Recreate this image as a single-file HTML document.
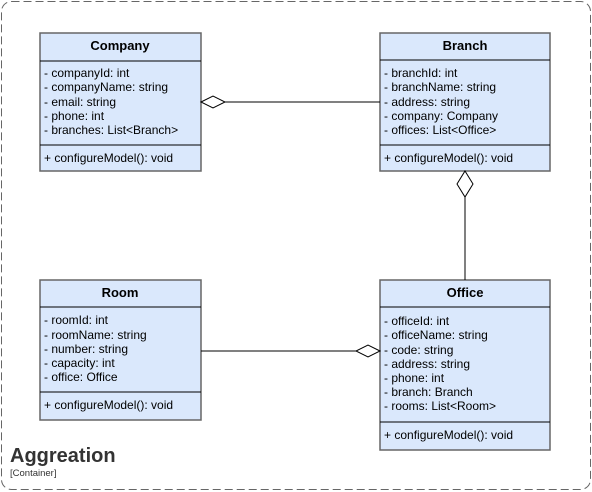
<!DOCTYPE html>
<html><head><style>body{margin:0;background:#fff}svg{display:block}text{font-family:"Liberation Sans",Arial,sans-serif;font-size:12px;fill:#000}</style></head><body>
<svg width="592" height="492" viewBox="0 0 592 492">
<rect x="1.5" y="1.5" width="589" height="488" rx="10" fill="none" stroke="#666" stroke-dasharray="8,4"/>
<g stroke="#666" stroke-width="1.5" fill="#dae8fc">
<rect x="40" y="33" width="161" height="138"/>
<rect x="380" y="33" width="170" height="138"/>
<rect x="40" y="280" width="161" height="140"/>
<rect x="380" y="280" width="170" height="170"/>
</g>
<g stroke="#000" stroke-width="1">
<line x1="40" y1="61" x2="201" y2="61"/><line x1="40" y1="145" x2="201" y2="145"/>
<line x1="380" y1="60" x2="550" y2="60"/><line x1="380" y1="145" x2="550" y2="145"/>
<line x1="40" y1="307" x2="201" y2="307"/><line x1="40" y1="392" x2="201" y2="392"/>
<line x1="380" y1="307" x2="550" y2="307"/><line x1="380" y1="422" x2="550" y2="422"/>
<line x1="225" y1="102" x2="380" y2="102"/>
<line x1="465" y1="197" x2="465" y2="280"/>
<line x1="201" y1="351" x2="356" y2="351"/>
</g>
<g stroke="#000" fill="#fff">
<polygon points="201,102 213,96 225,102 213,108"/>
<polygon points="465,171 473,184 465,197 457,184"/>
<polygon points="380,351 368,345 356,351 368,357"/>
</g>
<g text-anchor="middle">
<text x="120" y="50" style="font-weight:bold;font-size:13px">Company</text>
<text x="465" y="50" style="font-weight:bold;font-size:13px">Branch</text>
<text x="120" y="297" style="font-weight:bold;font-size:13px">Room</text>
<text x="465" y="297" style="font-weight:bold;font-size:13px">Office</text>
</g>
<text x="44" y="77">- companyId: int</text>
<text x="44" y="91">- companyName: string</text>
<text x="44" y="106">- email: string</text>
<text x="44" y="120">- phone: int</text>
<text x="44" y="134">- branches: List&lt;Branch&gt;</text>
<text x="44" y="162">+ configureModel(): void</text>
<text x="384" y="77">- branchId: int</text>
<text x="384" y="91">- branchName: string</text>
<text x="384" y="106">- address: string</text>
<text x="384" y="120">- company: Company</text>
<text x="384" y="134">- offices: List&lt;Office&gt;</text>
<text x="384" y="162">+ configureModel(): void</text>
<text x="44" y="324">- roomId: int</text>
<text x="44" y="339">- roomName: string</text>
<text x="44" y="353">- number: string</text>
<text x="44" y="367">- capacity: int</text>
<text x="44" y="381">- office: Office</text>
<text x="44" y="409">+ configureModel(): void</text>
<text x="384" y="325">- officeId: int</text>
<text x="384" y="339">- officeName: string</text>
<text x="384" y="354">- code: string</text>
<text x="384" y="368">- address: string</text>
<text x="384" y="382">- phone: int</text>
<text x="384" y="396">- branch: Branch</text>
<text x="384" y="410">- rooms: List&lt;Room&gt;</text>
<text x="384" y="439">+ configureModel(): void</text>
<text x="10" y="462" style="font-size:20px;font-weight:bold;fill:#333">Aggreation</text>
<text x="10" y="476" style="font-size:9.5px;fill:#333">[Container]</text>
</svg>
</body></html>
